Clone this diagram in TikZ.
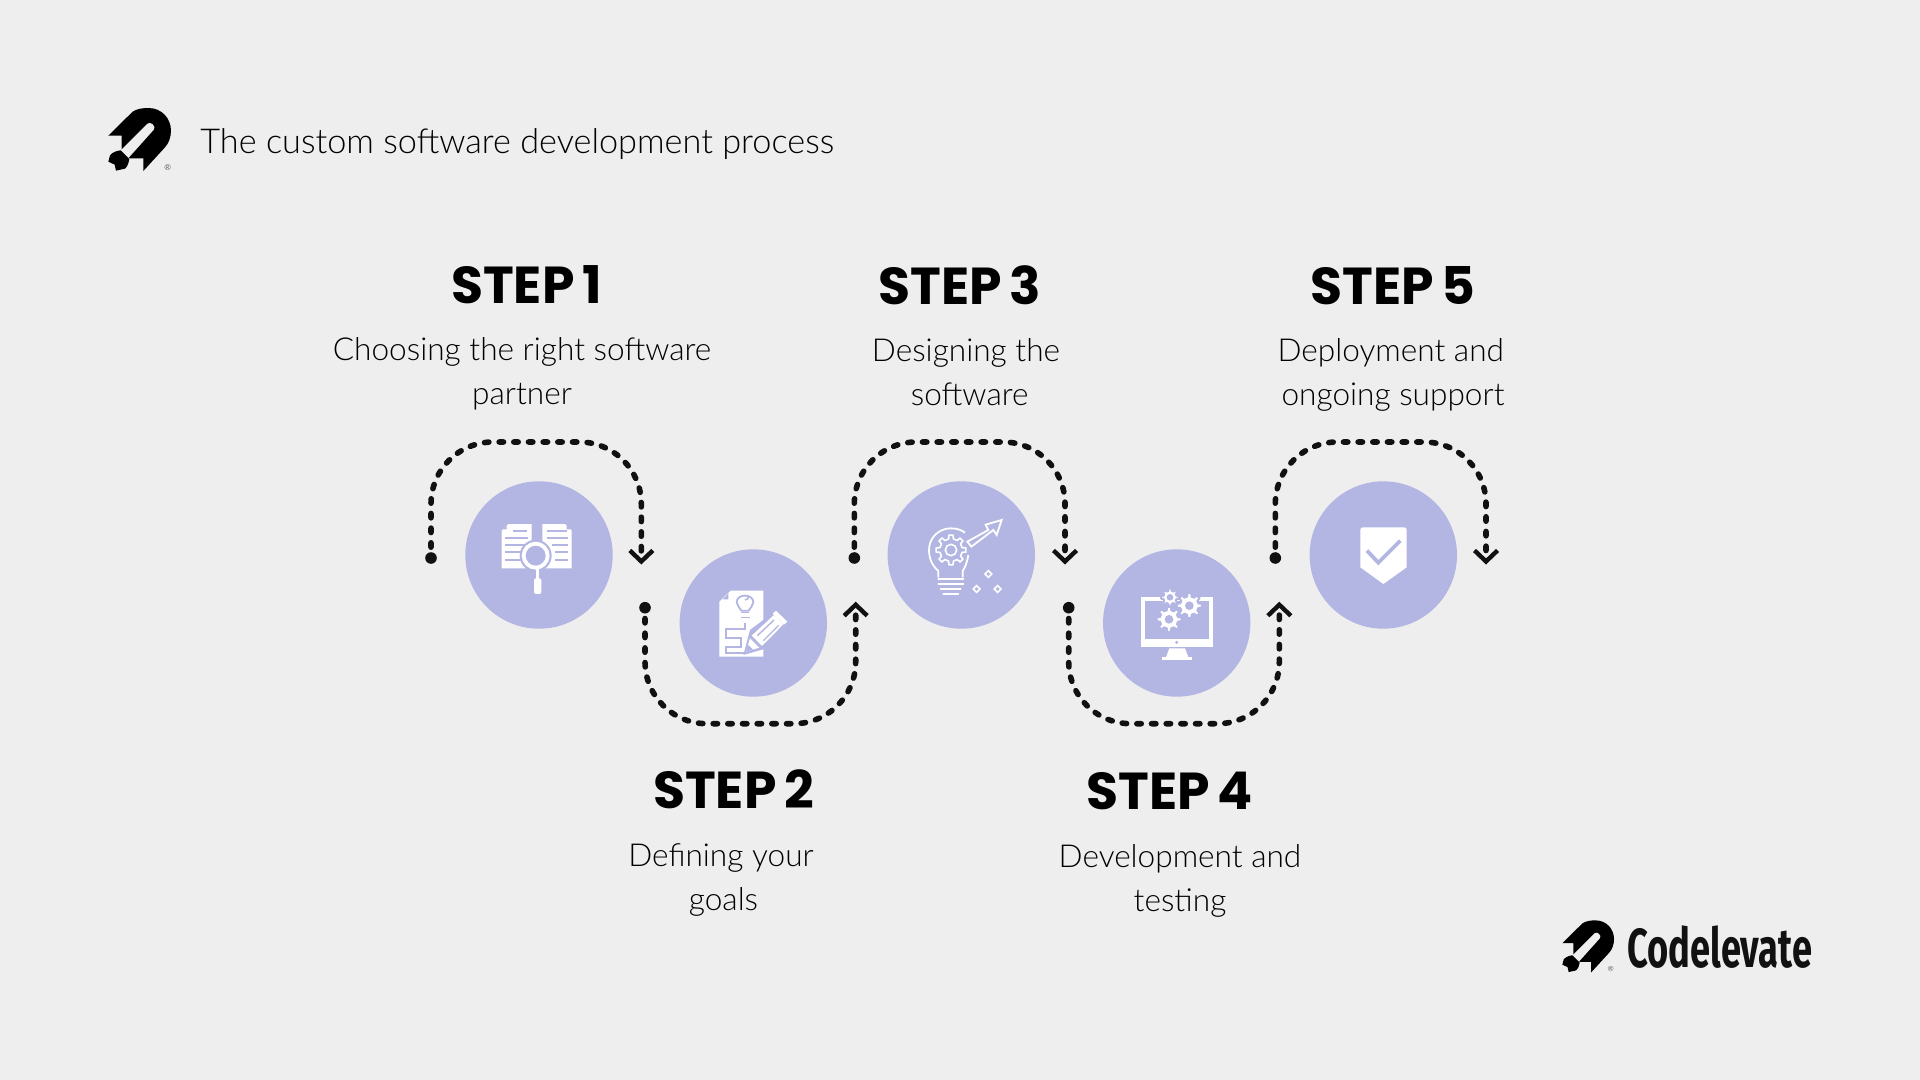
\documentclass[tikz,border=0pt]{standalone}
\usepackage{fontspec}
\usetikzlibrary{arrows.meta,calc}
\setmainfont{Lato}[UprightFont=* Light,BoldFont=* Black]
\newfontfamily\headf{Poppins}[UprightFont=* Bold,WordSpace=0.7]
\newfontfamily\brandf{Fira Sans}[UprightFont=* Bold,FakeStretch=0.66]
\definecolor{bgc}{HTML}{EEEEEE}
\definecolor{lav}{HTML}{B3B6E3}
\definecolor{ink}{HTML}{111111}
\newcommand{\mygear}[6]{% cx cy Ro Ri hole halo
 \begin{scope}[shift={(#1,#2)}]
  \draw[line width=#6,draw=lav,fill=white,line join=round] (-14:#4) \foreach \a in {0,45,...,315}{ -- (\a-14:#4) -- (\a-9:#3) -- (\a+9:#3) -- (\a+14:#4)} -- cycle;
  \fill[lav] (0,0) circle[radius=#5];
 \end{scope}}
\newcommand{\outgear}[4]{% cx cy Ro Ri
 \begin{scope}[shift={(#1,#2)}]
  \draw[line width=.8pt,white,line join=round] (-12:#4) \foreach \a in {0,45,...,315}{ -- (\a-12:#4) -- (\a-8:#3) -- (\a+8:#3) -- (\a+12:#4)} -- cycle;
  \draw[line width=.8pt,white] (0,0) circle[radius=#4*.5];
 \end{scope}}
% connector: start node, y-level coordinate, end coordinate, direction (-1 up, 1 down)
\newcommand{\loopconn}[4]{%
 \draw[conn] (#1.center) -- ($(#1.center |- #2)+(0,{-#4*62})$)
   .. controls +(0,{#4*34.2}) and +(-34.2,0) .. ($(#1.center |- #2)+(62,0)$)
   -- ($(#3 |- #2)+(-62,0)$)
   .. controls +(34.2,0) and +(0,{#4*34.2}) .. ($(#3 |- #2)+(0,{-#4*62})$)
   -- (#3);}
\tikzset{
 x=0.5pt,y=-0.5pt,
 stepcircle/.style={circle,fill=lav,minimum size=73.7pt,inner sep=0pt},
 startdot/.style={circle,fill=ink,minimum size=5.8pt,inner sep=0pt},
 conn/.style={draw=ink,line width=2.8pt,line cap=round,dash pattern=on 2.2pt off 5.135pt,dash phase=1.93pt,
   -{Straight Barb[length=5.5pt,width=11.5pt,line width=2.2pt]}},
 headtxt/.style={font=\headf\fontsize{26}{30}\selectfont,text=black,inner sep=0pt},
 desctxt/.style={font=\fontsize{15.8}{22}\selectfont,text=black,inner sep=0pt,align=center},
 plinea/.style={draw=lav,line width=1pt},
 rocketlogo/.pic={
  \fill[black] (55,137) -- (128,65) .. controls (142,56) and (158,54) .. (175,54)
    .. controls (215,54) and (243,85) .. (243,122) .. controls (243,142) and (236,160) .. (225,172)
    -- (160,243) -- (160,205) -- (118,205) -- (95,182) -- (95,137) -- cycle;
  \fill[bgc] (172.5,101) .. controls (181,92) and (200,110) .. (191.5,119) -- (114.5,205) -- (90,183) -- cycle;
  \fill[black] (55,215) -- (60,196) .. controls (68,186) and (82,182) .. (92,181) -- (118,207)
    .. controls (116,222) and (110,232) .. (105,236) -- (78,242) -- (74,224) -- cycle;
 }
}
\begin{document}
\begin{tikzpicture}
\useasboundingbox (0,0) rectangle (1920,1080);
\fill[bgc] (0,0) rectangle (1920,1080);

% logo + title
\pic[shift={(90,90)},scale=.3333] {rocketlogo};
\node[inner sep=0pt,font=\fontsize{4}{4}\selectfont] (regA) at (167.7,167.7) {®};
\node[anchor=base west,inner sep=0pt,font=\fontsize{17.14}{20}\selectfont,text=black] (title) at (200,153.7) {The custom software development process};

% circles
\node[stepcircle] (c1) at (539,555) {};
\node[stepcircle] (c2) at (753.3,623) {};
\node[stepcircle] (c3) at (961.3,555) {};
\node[stepcircle] (c4) at (1176.7,623) {};
\node[stepcircle] (c5) at (1383.3,555) {};

% connector anchors
\node[startdot] (d1) at (431,558) {};
\node[startdot] (d2) at (645,607.7) {};
\node[startdot] (d3) at (854.3,558) {};
\node[startdot] (d4) at (1068.7,607.7) {};
\node[startdot] (d5) at (1275.3,558) {};
\coordinate (e1) at (641.3,564.5);
\coordinate (e2) at (855.7,601.7);
\coordinate (e3) at (1065,564.5);
\coordinate (e4) at (1279.3,601.7);
\coordinate (e5) at (1486,564.5);
\coordinate (t1) at (536,442);
\coordinate (t2) at (750,723.7);
\coordinate (t3) at (960,442);
\coordinate (t4) at (1174,723.7);
\coordinate (t5) at (1380,442);
\loopconn{d1}{t1}{e1}{-1}
\loopconn{d2}{t2}{e2}{1}
\loopconn{d3}{t3}{e3}{-1}
\loopconn{d4}{t4}{e4}{1}
\loopconn{d5}{t5}{e5}{-1}

% headings
\node[headtxt] (h1) at (526.5,284.5) {STEP 1};
\node[headtxt] (h2) at (733.5,789.5) {STEP 2};
\node[headtxt] (h3) at (960,285.5) {STEP 3};
\node[headtxt] (h4) at (1169.4,790.5) {STEP 4};
\node[headtxt] (h5) at (1393,285.5) {STEP 5};

% descriptions
\node[desctxt] (t1txt) at (522,373.5) {Choosing the right software\\partner};
\node[desctxt] (t2txt) at (721,879.5) {Defining your\\\hspace*{2.5pt}goals};
\node[desctxt] (t3txt) at (966,372.5) {Designing the\\\hspace*{3.7pt}software};
\node[desctxt] (t4txt) at (1180,881) {Development and\\testing};
\node[desctxt] (t5txt) at (1393,375) {Deployment and\hspace*{2.2pt}\\ongoing support};

% icon 1: documents and magnifier
\begin{scope}[shift={(480,500)},scale=.3333]
 \fill[white] (65,205) -- (65,92) -- (85,72) -- (155,72) -- (155,205) -- cycle;
 \fill[white] (187,72) -- (255,72) -- (275,92) -- (275,205) -- (187,205) -- cycle;
 \fill[lav] (68,88) -- (80,76) -- (80,88) -- cycle;
 \fill[lav] (272,88) -- (260,76) -- (260,88) -- cycle;
 \foreach \xa/\xb/\yy in {100/140/93,75/145/113,75/135/135,75/125/155,75/125/180,
   200/260/93,200/265/113,215/265/135,225/265/155,225/265/180}
   \draw[plinea] (\xa,\yy) -- (\xb,\yy);
 \fill[lav] (167,167) circle[radius=48];
 \draw[white,line width=1.9pt,fill=lav] (167,167) circle[radius=36];
 \fill[white] (168,205) rectangle (178,240);
 \fill[white,rounded corners=1pt] (162,235) rectangle (184,282);
\end{scope}

% icon 2: plan and pencil
\begin{scope}[shift={(700,570)},scale=.3333]
 \fill[white] (58,95) -- (92,62) -- (190,62) -- (190,260) -- (58,260) -- cycle;
 \fill[lav] (68,88) -- (85,88) -- (85,70) -- cycle;
 \draw[plinea,line width=.9pt] (124,122) .. controls (120,112) and (110,108) .. (110,97) .. controls (110,70) and (160,70) .. (160,97) .. controls (160,108) and (150,112) .. (146,122) -- cycle;
 \draw[plinea,line width=.8pt] (124,128) -- (146,128) (122,143) -- (150,143);
 \draw[plinea,line width=.8pt] (135,90) arc[start angle=90,end angle=0,radius=11];
 \draw[plinea,line width=1pt] (135,158) -- (135,176) -- (78,176) -- (78,205) -- (122,205) -- (122,232) -- (78,232) -- (78,248) -- (135,248);
 \fill[lav] (130,255) -- (150,180) -- (240,112) -- (275,155) -- (200,235) -- cycle;
 \fill[white] (138,245) -- (150,205) -- (178,233) -- cycle;
 \fill[lav] (138,245) -- (144,224) -- (159,239) -- cycle;
 \fill[white] (155,197) -- (222,135) -- (250,163) -- (186,228) -- cycle;
 \fill[white] (228,122) -- (262,155) -- (252,164) -- (218,131) -- cycle;
 \draw[plinea,line width=.7pt] (172,197) -- (222,150) (190,212) -- (236,166);
\end{scope}

% icon 3: bulb, gear, arrow
\begin{scope}[shift={(910,500)},scale=.3333]
 \draw[white,line width=.9pt] (85,232) -- (85,213) .. controls (70,200) and (57,180) .. (57,150)
   .. controls (57,112) and (88,85) .. (122,85) .. controls (140,85) and (155,90) .. (165,98);
 \draw[white,line width=.9pt] (175,165) .. controls (172,185) and (165,203) .. (158,213) -- (158,232);
 \foreach \yy/\xa/\xb in {236/85/160,252/85/160,268/92/152,281/100/145}
   \draw[white,line width=.9pt,line cap=round] (\xa,\yy) -- (\xb,\yy);
 \outgear{123}{150}{45}{34}
 \draw[white,line width=.9pt,line join=miter] (172,125) -- (235,90) -- (227,74) -- (275,60) -- (260,105) -- (250,90) -- (184,140) -- cycle;
 \foreach \cx/\cy in {235/222,200/267,263/267}
   \draw[white,line width=.8pt] (\cx,\cy-10) -- (\cx+10,\cy) -- (\cx,\cy+10) -- (\cx-10,\cy) -- cycle;
\end{scope}

% icon 4: monitor and gears
\begin{scope}[shift={(1120,570)},scale=.3333]
 \fill[white] (62,80) rectangle (280,232);
 \fill[lav] (74,92) rectangle (268,207);
 \fill[lav] (170,217) circle[radius=5];
 \fill[white] (148,235) -- (195,235) -- (205,262) -- (138,262) -- cycle;
 \fill[white] (125,262) rectangle (216,270);
 \mygear{150}{82}{27}{20}{10}{1pt}
 \mygear{208}{107}{38}{28}{13}{1pt}
 \mygear{147}{148}{38}{28}{13}{1pt}
\end{scope}

% icon 5: shield with check
\begin{scope}[shift={(1300,430)},scale=.3333]
 \fill[white] (181,300) .. controls (181,295) and (184,292) .. (189,292) -- (312,292) .. controls (317,292) and (320,295) .. (320,300) -- (320,412) -- (250,462) -- (181,412) -- cycle;
 \draw[lav,line width=1.9pt] (201,362) -- (235,398) -- (301,332);
\end{scope}

% brand
\pic[shift={(1547.2,905.5)},scale=.275] {rocketlogo};
\node[inner sep=0pt,font=\fontsize{3.5}{4}\selectfont] (regB) at (1610.7,969.3) {®};
\node[anchor=base west,inner sep=0pt,font=\brandf\fontsize{27.5}{30}\selectfont,text=ink] (brand) at (1627,967) {Codelevate};
\end{tikzpicture}
\end{document}
